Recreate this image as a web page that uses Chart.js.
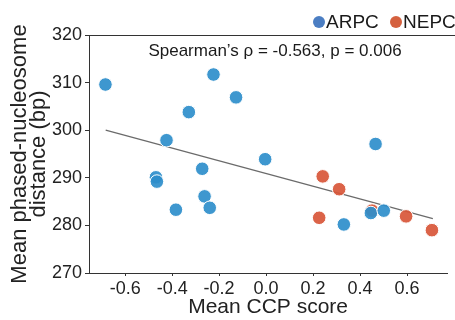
<!DOCTYPE html>
<html>
<head>
<meta charset="utf-8">
<script src="https://cdn.jsdelivr.net/npm/chart.js@4"></script>
<style>
  html, body { margin: 0; padding: 0; background: #fff; }
  #wrap { width: 455px; height: 320px; }
</style>
</head>
<body>
<div id="wrap"><canvas id="ccp_scatter"></canvas></div>
<script>
// values
const seriesNames = ['ARPC', 'NEPC'];
const arpcX = [-0.684, -0.224, -0.128, -0.329, -0.424, -0.004, -0.272, -0.469, -0.465, -0.262, -0.240, -0.384, 0.466, 0.331, 0.446, 0.501];
const arpcY = [309.6, 311.7, 306.9, 303.8, 297.9, 293.9, 291.9, 290.1, 289.2, 286.1, 283.7, 283.3, 297.1, 280.2, 282.6, 283.1];
const nepcX = [0.241, 0.311, 0.226, 0.451, 0.596, 0.706];
const nepcY = [290.3, 287.6, 281.6, 283.1, 281.9, 279.0];
// fitted trend line, two ends as seen in the picture
const fitX = [-0.683, 0.710];
const fitY = [300.0, 281.4];
const xTicks = [-0.6, -0.4, -0.2, 0.0, 0.2, 0.4, 0.6];
const yTicks = [270, 280, 290, 300, 310, 320];
const statText = 'Spearman\u2019s \u03c1 = -0.563, p = 0.006';

const FONT = "'Liberation Sans', Arial, sans-serif";
const pointColors = ['rgba(46,142,203,0.92)', 'rgba(216,86,56,0.92)'];
const legendColors = ['#4b7ec3', '#d5613f'];

const toPts = (xs, ys) => xs.map((x, i) => ({ x: x, y: ys[i] }));

// top spine, stats text and legend
const extras = {
  id: 'extras',
  afterDraw(chart) {
    const ctx = chart.ctx;
    const a = chart.chartArea;
    ctx.save();
    ctx.strokeStyle = '#333';
    ctx.lineWidth = 1;
    ctx.beginPath();
    ctx.moveTo(a.left, a.top + 0.5);
    ctx.lineTo(chart.width, a.top + 0.5);
    ctx.stroke();

    ctx.fillStyle = '#1a1a1a';
    ctx.font = '17px ' + FONT;
    ctx.textAlign = 'center';
    ctx.textBaseline = 'middle';
    ctx.fillText(statText, 275, 51);

    ctx.font = '19px ' + FONT;
    ctx.textAlign = 'left';
    const lx = [319, 396];
    seriesNames.forEach((name, i) => {
      ctx.fillStyle = legendColors[i];
      ctx.beginPath();
      ctx.arc(lx[i], 22, 6, 0, Math.PI * 2);
      ctx.fill();
      ctx.fillStyle = '#1a1a1a';
      ctx.fillText(name, lx[i] + 7, 23);
    });
    ctx.restore();
  }
};

const ctx = document.getElementById('ccp_scatter').getContext('2d');
const chart = new Chart(ctx, {
  type: 'scatter',
  data: {
    datasets: [
      {
        label: seriesNames[0],
        data: toPts(arpcX, arpcY),
        backgroundColor: pointColors[0],
        borderColor: '#fff',
        borderWidth: 1,
        pointRadius: 6.8,
      },
      {
        label: seriesNames[1],
        data: toPts(nepcX, nepcY),
        backgroundColor: pointColors[1],
        borderColor: '#fff',
        borderWidth: 1,
        pointRadius: 6.8,
      },
      {
        label: 'fit',
        type: 'line',
        data: toPts(fitX, fitY),
        borderColor: '#6b6b6b',
        borderWidth: 1.3,
        pointRadius: 0,
        fill: false,
      },
    ]
  },
  options: {
    responsive: true,
    maintainAspectRatio: false,
    animation: false,
    layout: { padding: { top: 35, right: 0, left: 0, bottom: 0 } },
    plugins: {
      legend: { display: false },
      tooltip: { enabled: false },
    },
    scales: {
      x: {
        type: 'linear',
        min: -0.754,
        max: 0.771,
        afterBuildTicks: (s) => { s.ticks = xTicks.map(v => ({ value: v })); },
        afterFit: (s) => { s.height = 47; },
        ticks: {
          font: { family: FONT, size: 18 },
          color: '#222',
          padding: 2,
          callback: (v) => Number(v).toFixed(1),
        },
        grid: { drawOnChartArea: false, tickLength: 3, color: '#333' },
        border: { color: '#333', width: 1 },
        title: {
          display: true,
          text: 'Mean CCP score',
          font: { family: FONT, size: 21 },
          color: '#222',
          padding: { top: 0, bottom: 0 },
        },
      },
      y: {
        min: 270,
        max: 320,
        afterBuildTicks: (s) => { s.ticks = yTicks.map(v => ({ value: v })); },
        afterFit: (s) => { s.width = 89; },
        ticks: {
          font: { family: FONT, size: 18 },
          color: '#222',
          padding: 3,
        },
        grid: { drawOnChartArea: false, tickLength: 4, color: '#333' },
        border: { color: '#333', width: 1 },
        title: {
          display: true,
          text: ['Mean phased-nucleosome', 'distance (bp)'],
          font: { family: FONT, size: 22, lineHeight: 0.84 },
          color: '#222',
          padding: { top: 11, bottom: 0 },
        },
      },
    },
  },
  plugins: [extras],
});
</script>
</body>
</html>
